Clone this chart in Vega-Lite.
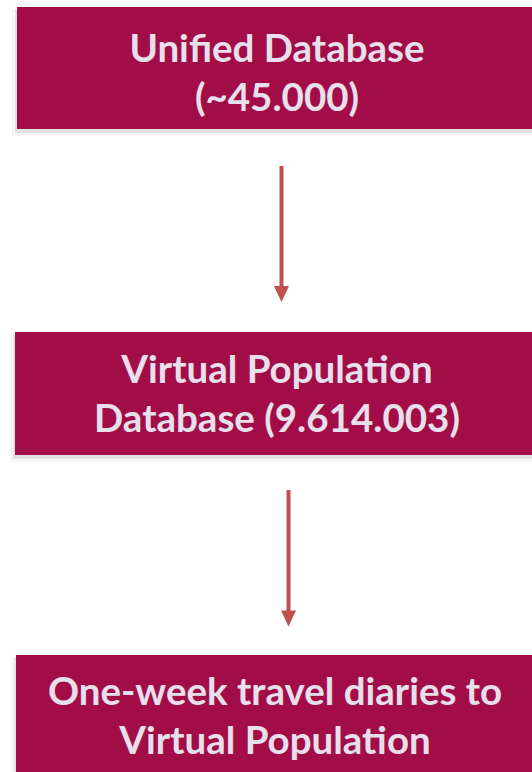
{
  "$schema": "https://vega.github.io/schema/vega-lite/v6.json",
  "width": 532,
  "height": 772,
  "padding": 0,
  "autosize": "none",
  "background": "white",
  "config": {"view": {"stroke": null}},
  "datasets": {
    "boxes": [
      {"step": 1, "left": 17, "right": 545, "top": 7, "bottom": 129, "cx": 277, "baseline": 62, "label": "Unified Database\n(~45.000)"},
      {"step": 2, "left": 15, "right": 545, "top": 332, "bottom": 455, "cx": 277, "baseline": 383, "label": "Virtual Population\nDatabase (9.614.003)"},
      {"step": 3, "left": 16, "right": 545, "top": 655, "bottom": 800, "cx": 275, "baseline": 705, "label": "One-week travel diaries to\nVirtual Population"}
    ],
    "arrows": [
      {"from": 1, "x": 281.5, "start": 166, "end": 290, "head": 294},
      {"from": 2, "x": 288.5, "start": 490, "end": 614, "head": 618.5}
    ]
  },
  "layer": [
    {
      "data": {"name": "boxes"},
      "mark": {"type": "rect", "color": "#8a8a8a", "opacity": 0.08, "xOffset": -5, "yOffset": 2, "y2Offset": 7},
      "encoding": {
        "x": {"field": "left", "type": "quantitative", "scale": {"domain": [0, 532], "nice": false, "zero": false}, "axis": null},
        "x2": {"field": "right"},
        "y": {"field": "top", "type": "quantitative", "scale": {"domain": [0, 772], "nice": false, "zero": false, "reverse": true}, "axis": null},
        "y2": {"field": "bottom"}
      }
    },
    {
      "data": {"name": "boxes"},
      "mark": {"type": "rect", "color": "#7a7a7a", "opacity": 0.16, "xOffset": -2, "yOffset": 3, "y2Offset": 4},
      "encoding": {
        "x": {"field": "left", "type": "quantitative"},
        "x2": {"field": "right"},
        "y": {"field": "top", "type": "quantitative"},
        "y2": {"field": "bottom"}
      }
    },
    {
      "data": {"name": "boxes"},
      "mark": {"type": "rect", "color": "#A20D47"},
      "encoding": {
        "x": {"field": "left", "type": "quantitative"},
        "x2": {"field": "right"},
        "y": {"field": "top", "type": "quantitative"},
        "y2": {"field": "bottom"}
      }
    },
    {
      "data": {"name": "boxes"},
      "mark": {"type": "text", "font": "Lato", "fontWeight": "bold", "fontSize": 38.5, "color": "#E7E0EC", "align": "center", "baseline": "alphabetic", "lineBreak": "\n", "lineHeight": 49},
      "encoding": {
        "x": {"field": "cx", "type": "quantitative"},
        "y": {"field": "baseline", "type": "quantitative"},
        "text": {"field": "label"}
      }
    },
    {
      "data": {"name": "arrows"},
      "mark": {"type": "rule", "color": "#C0504D", "strokeWidth": 4},
      "encoding": {
        "x": {"field": "x", "type": "quantitative"},
        "y": {"field": "start", "type": "quantitative"},
        "y2": {"field": "end"}
      }
    },
    {
      "data": {"name": "arrows"},
      "mark": {"type": "point", "filled": true, "opacity": 1, "color": "#C0504D", "shape": "M-0.94,-1L0.94,-1L0,1Z", "size": 256, "strokeWidth": 0},
      "encoding": {
        "x": {"field": "x", "type": "quantitative"},
        "y": {"field": "head", "type": "quantitative"}
      }
    }
  ]
}
